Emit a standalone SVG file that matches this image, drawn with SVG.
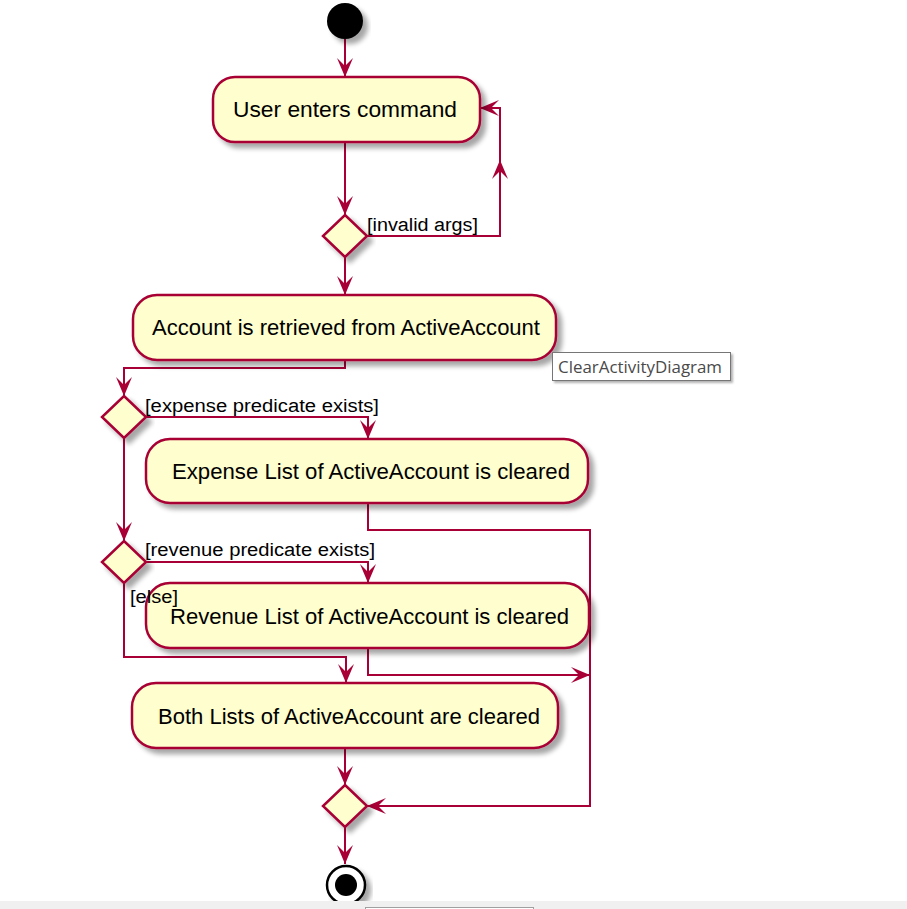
<svg xmlns="http://www.w3.org/2000/svg" width="907" height="909" viewBox="0 0 907 909">
<defs>
<filter id="sh" x="-10%" y="-10%" width="130%" height="150%">
<feGaussianBlur in="SourceAlpha" stdDeviation="2.5"/>
<feOffset dx="5" dy="5" result="o"/>
<feComponentTransfer><feFuncA type="linear" slope="0.35"/></feComponentTransfer>
<feMerge><feMergeNode/><feMergeNode in="SourceGraphic"/></feMerge>
</filter>
<filter id="sh2" x="-5%" y="-10%" width="115%" height="140%">
<feGaussianBlur in="SourceAlpha" stdDeviation="1"/>
<feOffset dx="2" dy="2"/>
<feComponentTransfer><feFuncA type="linear" slope="0.3"/></feComponentTransfer>
<feMerge><feMergeNode/><feMergeNode in="SourceGraphic"/></feMerge>
</filter>
<marker id="ah" viewBox="-20 -10 21 20" refX="0" refY="0" markerWidth="21" markerHeight="20" markerUnits="userSpaceOnUse" orient="auto">
<path d="M0,0 L-19,-8 L-11,0 L-19,8 Z" fill="#A80036"/>
</marker>
</defs>
<style>
.node{fill:#FEFECE;stroke:#A80036;stroke-width:2.5;filter:url(#sh)}
.lbl{font-family:"Liberation Sans",Arial,sans-serif;font-size:22px;fill:#000}
.grd{font-family:"Liberation Sans",Arial,sans-serif;font-size:18px;fill:#000}
.cn{fill:none;stroke:#A80036;stroke-width:2;marker-end:url(#ah)}
</style>
<rect width="907" height="909" fill="#FFFFFF"/>

<g id="connectors">
<polyline class="cn" points="345,39 345,77"/>
<polyline class="cn" points="345,142 345,215"/>
<polyline class="cn" points="367,236 500,236 500,160"/>
<polyline class="cn" points="500,160 500,108 480,108"/>
<polyline class="cn" points="345,257 345,295"/>
<polyline class="cn" points="345,360 345,368 124,368 124,396"/>
<polyline class="cn" points="146,417 368,417 368,439"/>
<polyline class="cn" points="124,438 124,541"/>
<polyline class="cn" points="146,562 368,562 368,583"/>
<polyline class="cn" points="124,583 124,657 346,657 346,683"/>
<polyline class="cn" points="368,503 368,530 590,530 590,806 367,806"/>
<polyline class="cn" points="368,648 368,675 590,675"/>
<polyline class="cn" points="345,748 345,785"/>
<polyline class="cn" points="345,827 345,864"/>
</g>

<g id="start">
<circle cx="345" cy="21" r="18" fill="#000" filter="url(#sh)"/>
</g>

<g id="userEnters">
<rect class="node" x="213" y="77" width="267" height="65" rx="22"/>
<text class="lbl" x="233" y="117" textLength="224" lengthAdjust="spacingAndGlyphs">User enters command</text>
</g>

<g id="decision1">
<polygon class="node" points="345,215 367,236 345,257 323,236"/>
</g>

<g id="accountRetrieved">
<rect class="node" x="133" y="295" width="423" height="65" rx="24"/>
<text class="lbl" x="152" y="335" textLength="388" lengthAdjust="spacingAndGlyphs">Account is retrieved from ActiveAccount</text>
</g>

<g id="decision2">
<polygon class="node" points="124,396 146,417 124,438 102,417"/>
</g>

<g id="expenseCleared">
<rect class="node" x="146" y="439" width="442" height="64" rx="24"/>
<text class="lbl" x="172" y="479" textLength="398" lengthAdjust="spacingAndGlyphs">Expense List of ActiveAccount is cleared</text>
</g>

<g id="decision3">
<polygon class="node" points="124,541 146,562 124,583 102,562"/>
</g>

<g id="revenueCleared">
<rect class="node" x="146" y="583" width="443" height="65" rx="24"/>
<text class="lbl" x="170" y="624" textLength="399" lengthAdjust="spacingAndGlyphs">Revenue List of ActiveAccount is cleared</text>
</g>

<g id="bothCleared">
<rect class="node" x="132" y="683" width="426" height="65" rx="24"/>
<text class="lbl" x="158" y="724" textLength="382" lengthAdjust="spacingAndGlyphs">Both Lists of ActiveAccount are cleared</text>
</g>

<g id="merge">
<polygon class="node" points="345,785 367,806 345,827 323,806"/>
</g>

<g id="end">
<circle cx="346" cy="885" r="19" fill="#FFFFFF" stroke="#000" stroke-width="2.5" filter="url(#sh)"/>
<circle cx="346" cy="885" r="11" fill="#000"/>
</g>

<g id="guards">
<text class="grd" x="367" y="231" textLength="111" lengthAdjust="spacingAndGlyphs">[invalid args]</text>
<text class="grd" x="145" y="412" textLength="234" lengthAdjust="spacingAndGlyphs">[expense predicate exists]</text>
<text class="grd" x="145" y="556" textLength="230" lengthAdjust="spacingAndGlyphs">[revenue predicate exists]</text>
<text class="grd" x="130" y="603" textLength="48" lengthAdjust="spacingAndGlyphs">[else]</text>
</g>

<g id="tooltip">
<rect x="552.5" y="352.5" width="178" height="28" fill="#FFFFFF" stroke="#767676" stroke-width="1" filter="url(#sh2)"/>
<text x="558" y="373" font-family="'Open Sans','Noto Sans',sans-serif" font-size="16" fill="#4a4a4a" textLength="164" lengthAdjust="spacingAndGlyphs">ClearActivityDiagram</text>
</g>

<g id="statusbar">
<rect x="0" y="901" width="907" height="8" fill="#F0F0F0"/>
<rect x="365.5" y="907.5" width="168" height="6" fill="#FFFFFF" stroke="#A0A0A0" stroke-width="1"/>
</g>
</svg>
